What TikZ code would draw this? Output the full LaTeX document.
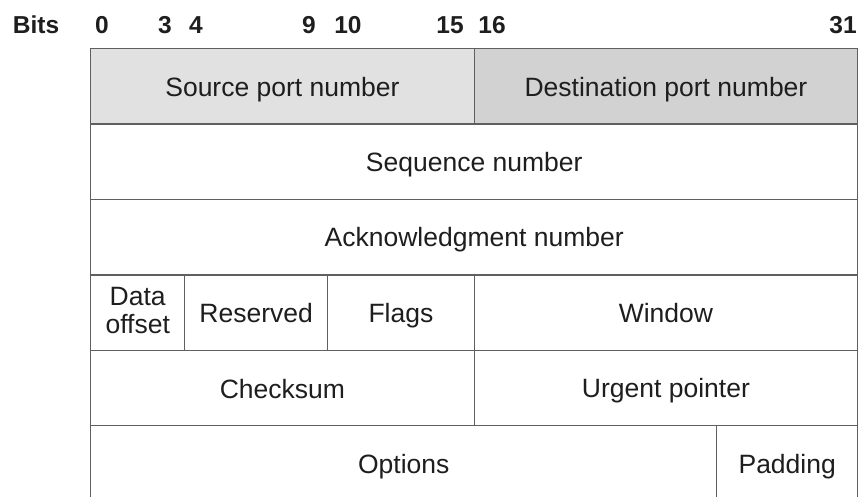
\documentclass[tikz,border=0pt]{standalone}
\usepackage{fontspec}
\setmainfont{Liberation Sans}
\usetikzlibrary{positioning}
\definecolor{rule}{RGB}{95,95,95}
\definecolor{srcgray}{RGB}{225,225,225}
\definecolor{dstgray}{RGB}{210,210,210}
\definecolor{ink}{RGB}{30,30,30}
\newcommand{\fieldstrut}{\rule[-5pt]{0pt}{30pt}}
\tikzset{
  field/.style={draw=rule,line width=1.4pt,fill=#1,anchor=north west,inner sep=0pt,
    minimum height=75.4pt,align=center,text=ink,font=\fontsize{26.5}{28}\selectfont,
    execute at begin node=\fieldstrut},
  field/.default=white,
  bitno/.style={font=\fontsize{24.5}{28}\selectfont\bfseries,text=ink},
}
\begin{document}
\begin{tikzpicture}[x=1pt,y=-1pt]
    \useasboundingbox (0,0) rectangle (860,496);
    \clip (0,0) rectangle (860,496);
    % bit numbers
    \node[bitno] (bits) at (36,25) {Bits};
    \foreach \x/\n in {102/0,165/3,196/4,309/9,348/10,450/15,492/16,843/31}
      \node[bitno] (b\n) at (\x,25) {\n};
    % header words
    \node[field=srcgray,minimum width=383.5pt] (src) at (90,48) {Source port number};
    \node[field=dstgray,minimum width=383.5pt] (dst) at (473.5,48) {Destination port number};
    \node[field,minimum width=767pt] (seq) at (90,123.4) {Sequence number};
    \node[field,minimum width=767pt] (ack) at (90,198.8) {Acknowledgment number};
    \node[field,minimum width=94pt,execute at begin node={}] (doff) at (90,274.2) {Data\\offset};
    \node[field,minimum width=143pt]   (resv)  at (184,274.2) {Reserved};
    \node[field,minimum width=146.5pt] (flags) at (327,274.2) {Flags};
    \node[field,minimum width=383.5pt] (win)   at (473.5,274.2) {Window};
    \node[field,minimum width=383.5pt] (csum)  at (90,349.6)  {Checksum};
    \node[field,minimum width=383.5pt] (urg)   at (473.5,349.6) {Urgent pointer};
    % last row runs off the bottom, its lower edge is clipped
    \node[field,minimum width=626pt] (opts) at (90,425) {Options};
    \node[field,minimum width=141pt] (pad)  at (716,425) {Padding};
  \end{tikzpicture}
\end{document}
